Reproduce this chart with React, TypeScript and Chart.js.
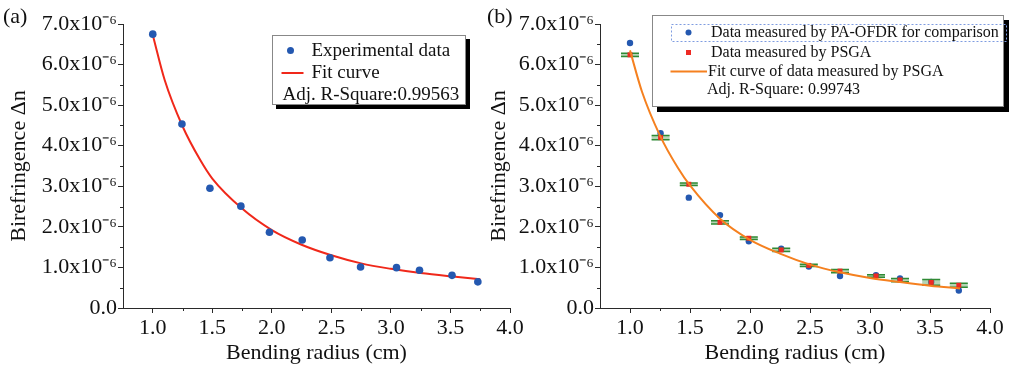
import React, { useEffect, useRef } from "react";
import { Chart, registerables } from "chart.js";

Chart.register(...registerables);

const SERIF = "'Liberation Serif', 'Times New Roman', serif";

// ---------- Panel (a) ----------
const radiusA = [1.0, 1.245, 1.48, 1.74, 1.98, 2.255, 2.488, 2.745, 3.047, 3.24, 3.513, 3.73];
const birefA = [6.75e-6, 4.535e-6, 2.95e-6, 2.51e-6, 1.866e-6, 1.676e-6, 1.24e-6, 1.01e-6, 0.995e-6, 0.93e-6, 0.805e-6, 0.645e-6];
const fitAX = [1.0, 1.1, 1.25, 1.4, 1.5, 1.75, 2.0, 2.25, 2.5, 2.75, 3.0, 3.25, 3.5, 3.75];
const fitAY = [6.73e-6, 5.62e-6, 4.48e-6, 3.64e-6, 3.19e-6, 2.45e-6, 1.92e-6, 1.56e-6, 1.3e-6, 1.1e-6, 0.965e-6, 0.86e-6, 0.78e-6, 0.71e-6];

// ---------- Panel (b) ----------
const radiusB = [1.0, 1.255, 1.49, 1.75, 1.99, 2.26, 2.49, 2.75, 3.05, 3.25, 3.51, 3.74];
const ofdrB = [6.53e-6, 4.31e-6, 2.72e-6, 2.29e-6, 1.645e-6, 1.46e-6, 1.02e-6, 0.79e-6, 0.81e-6, 0.73e-6, 0.64e-6, 0.43e-6];
const psgaB = [6.24e-6, 4.2e-6, 3.05e-6, 2.11e-6, 1.72e-6, 1.43e-6, 1.05e-6, 0.91e-6, 0.79e-6, 0.69e-6, 0.63e-6, 0.56e-6];
const psgaErrB = [0.04e-6, 0.05e-6, 0.03e-6, 0.04e-6, 0.03e-6, 0.04e-6, 0.03e-6, 0.04e-6, 0.03e-6, 0.04e-6, 0.07e-6, 0.05e-6];
const fitBX = [1.0, 1.1, 1.25, 1.4, 1.5, 1.75, 2.0, 2.25, 2.5, 2.75, 3.0, 3.25, 3.5, 3.75];
const fitBY = [6.35e-6, 5.33e-6, 4.25e-6, 3.45e-6, 3.02e-6, 2.2e-6, 1.68e-6, 1.34e-6, 1.07e-6, 0.88e-6, 0.74e-6, 0.64e-6, 0.55e-6, 0.48e-6];

// ---------- Axes ----------
const xMajorTicks = [1.0, 1.5, 2.0, 2.5, 3.0, 3.5, 4.0];
const xMinorTicks = [1.25, 1.75, 2.25, 2.75, 3.25, 3.75];
const yMajorTicks = [0, 1e-6, 2e-6, 3e-6, 4e-6, 5e-6, 6e-6, 7e-6];
const yMinorTicks = [0.5e-6, 1.5e-6, 2.5e-6, 3.5e-6, 4.5e-6, 5.5e-6, 6.5e-6];

const xTitle = "Bending radius (cm)";
const yTitle = "Birefringence \u0394n";

const AXIS_COLOR = "#2a2a2a";
const TEXT_COLOR = "#111";

function pts(xs: number[], ys: number[]) {
  return xs.map((x, i) => ({ x, y: ys[i] }));
}

function yLabel(v: number) {
  if (Math.abs(v) < 1e-12) return "0.0";
  return (v * 1e6).toFixed(1) + "x10\u207B\u2076";
}

function makeScales(yWidth: number, xHeight: number) {
  return {
    x: {
      type: "linear",
      min: 0.75,
      max: 4.0,
      afterBuildTicks: (s: any) => {
        s.ticks = xMajorTicks.map((v) => ({ value: v }));
      },
      afterFit: (s: any) => {
        s.height = xHeight;
      },
      grid: { drawOnChartArea: false, drawTicks: true, tickLength: 5, color: AXIS_COLOR, tickColor: AXIS_COLOR },
      border: { display: true, color: AXIS_COLOR, width: 1 },
      ticks: {
        font: { family: SERIF, size: 22 },
        color: TEXT_COLOR,
        padding: 2,
        maxRotation: 0,
        autoSkip: false,
        callback: (v: any) => Number(v).toFixed(1),
      },
      title: {
        display: true,
        text: xTitle,
        color: TEXT_COLOR,
        font: { family: SERIF, size: 22 },
        padding: { top: 0, bottom: 5 },
      },
    },
    y: {
      type: "linear",
      min: 0,
      max: 7e-6,
      afterBuildTicks: (s: any) => {
        s.ticks = yMajorTicks.map((v) => ({ value: v }));
      },
      afterFit: (s: any) => {
        s.width = yWidth;
      },
      grid: { drawOnChartArea: false, drawTicks: true, tickLength: 5, color: AXIS_COLOR, tickColor: AXIS_COLOR },
      border: { display: true, color: AXIS_COLOR, width: 1 },
      ticks: {
        font: { family: SERIF, size: 22 },
        color: TEXT_COLOR,
        padding: 1,
        autoSkip: false,
        callback: (v: any) => yLabel(Number(v)),
      },
      title: {
        display: true,
        text: yTitle,
        color: TEXT_COLOR,
        font: { family: SERIF, size: 22 },
        padding: { top: 6, bottom: 0 },
      },
    },
  };
}

function drawMinorTicks(chart: any) {
  const ctx = chart.ctx;
  const sx = chart.scales.x;
  const sy = chart.scales.y;
  const area = chart.chartArea;
  ctx.save();
  ctx.strokeStyle = AXIS_COLOR;
  ctx.lineWidth = 1;
  xMinorTicks.forEach((v) => {
    const px = Math.round(sx.getPixelForValue(v)) + 0.5;
    ctx.beginPath();
    ctx.moveTo(px, area.bottom);
    ctx.lineTo(px, area.bottom + 3);
    ctx.stroke();
  });
  yMinorTicks.forEach((v) => {
    const py = Math.round(sy.getPixelForValue(v)) + 0.5;
    ctx.beginPath();
    ctx.moveTo(area.left, py);
    ctx.lineTo(area.left - 3, py);
    ctx.stroke();
  });
  ctx.restore();
}

function drawBox(ctx: CanvasRenderingContext2D, x: number, y: number, w: number, h: number, sh: number) {
  ctx.fillStyle = "#000";
  ctx.fillRect(x + sh, y + sh, w, h);
  ctx.fillStyle = "#fff";
  ctx.fillRect(x, y, w, h);
  ctx.strokeStyle = "#888";
  ctx.lineWidth = 1;
  ctx.strokeRect(x + 0.5, y + 0.5, w - 1, h - 1);
}

const overlayA = {
  id: "overlayA",
  afterDraw(chart: any) {
    const ctx = chart.ctx as CanvasRenderingContext2D;
    drawMinorTicks(chart);
    ctx.save();
    ctx.fillStyle = TEXT_COLOR;
    ctx.font = `22px ${SERIF}`;
    ctx.textBaseline = "middle";
    ctx.textAlign = "left";
    ctx.fillText("(a)", 3, 17);

    drawBox(ctx, 272, 35, 194, 70, 4);
    ctx.fillStyle = "#2458b0";
    ctx.beginPath();
    ctx.arc(290.5, 50.5, 3.5, 0, Math.PI * 2);
    ctx.fill();
    ctx.strokeStyle = "#f0281a";
    ctx.lineWidth = 2;
    ctx.beginPath();
    ctx.moveTo(281.5, 73);
    ctx.lineTo(303.5, 73);
    ctx.stroke();
    ctx.fillStyle = TEXT_COLOR;
    ctx.font = `19px ${SERIF}`;
    ctx.fillText("Experimental data", 311.5, 51);
    ctx.fillText("Fit curve", 311.5, 73);
    ctx.fillText("Adj. R-Square:0.99563", 282.5, 95);
    ctx.restore();
  },
};

const OFF = 480;

const overlayB = {
  id: "overlayB",
  afterDatasetDraw(chart: any, args: any) {
    if (args.index !== 2) return;
    const ctx = chart.ctx as CanvasRenderingContext2D;
    const sx = chart.scales.x;
    const sy = chart.scales.y;
    ctx.save();
    radiusB.forEach((r, i) => {
      const px = sx.getPixelForValue(r);
      const top = sy.getPixelForValue(psgaB[i] + psgaErrB[i]);
      const bot = sy.getPixelForValue(psgaB[i] - psgaErrB[i]);
      const half = 9;
      ctx.fillStyle = "rgba(90,160,90,0.45)";
      ctx.fillRect(px - half, top, half * 2, bot - top);
      ctx.strokeStyle = "#2f8a35";
      ctx.lineWidth = 1.5;
      ctx.beginPath();
      ctx.moveTo(px - half, top);
      ctx.lineTo(px + half, top);
      ctx.moveTo(px - half, bot);
      ctx.lineTo(px + half, bot);
      ctx.moveTo(px, top);
      ctx.lineTo(px, bot);
      ctx.stroke();
    });
    ctx.restore();
  },
  afterDraw(chart: any) {
    const ctx = chart.ctx as CanvasRenderingContext2D;
    drawMinorTicks(chart);
    ctx.save();
    ctx.fillStyle = TEXT_COLOR;
    ctx.font = `22px ${SERIF}`;
    ctx.textBaseline = "middle";
    ctx.textAlign = "left";
    ctx.fillText("(b)", 487 - OFF, 17);

    drawBox(ctx, 652 - OFF, 15, 352, 92, 5);
    ctx.strokeStyle = "#7f9ce0";
    ctx.lineWidth = 1;
    ctx.setLineDash([2, 2]);
    ctx.strokeRect(671.5 - OFF, 24.5, 335, 17);
    ctx.setLineDash([]);

    ctx.fillStyle = "#2458b0";
    ctx.beginPath();
    ctx.arc(688.5 - OFF, 32.5, 3, 0, Math.PI * 2);
    ctx.fill();
    ctx.fillStyle = "#ee2a24";
    ctx.fillRect(686 - OFF, 50, 5, 5);
    ctx.strokeStyle = "#f5801f";
    ctx.lineWidth = 2;
    ctx.beginPath();
    ctx.moveTo(670.5 - OFF, 71.5);
    ctx.lineTo(707 - OFF, 71.5);
    ctx.stroke();

    ctx.fillStyle = TEXT_COLOR;
    ctx.font = `16px ${SERIF}`;
    ctx.fillText("Data measured by PA-OFDR for comparison", 711 - OFF, 33);
    ctx.fillText("Data measured by PSGA", 711 - OFF, 53);
    ctx.fillText("Fit curve of data measured by PSGA", 708 - OFF, 72);
    ctx.fillText("Adj. R-Square: 0.99743", 707 - OFF, 90);
    ctx.restore();
  },
};

export default function App() {
  const refA = useRef<HTMLCanvasElement | null>(null);
  const refB = useRef<HTMLCanvasElement | null>(null);

  useEffect(() => {
    const chartA = new Chart(refA.current as HTMLCanvasElement, {
      type: "scatter",
      data: {
        datasets: [
          {
            label: "Experimental data",
            data: pts(radiusA, birefA),
            pointRadius: 3.8,
            pointBackgroundColor: "#2458b0",
            pointBorderWidth: 0,
            showLine: false,
          },
          {
            label: "Fit curve",
            data: pts(fitAX, fitAY),
            showLine: true,
            pointRadius: 0,
            borderColor: "#f0281a",
            borderWidth: 2,
            cubicInterpolationMode: "monotone",
          } as any,
        ],
      },
      options: {
        responsive: false,
        maintainAspectRatio: false,
        animation: false,
        devicePixelRatio: 1,
        layout: { padding: { left: 0, right: 30, top: 24, bottom: 0 } },
        plugins: { legend: { display: false }, tooltip: { enabled: false } },
        scales: makeScales(123, 63) as any,
      },
      plugins: [overlayA],
    });

    const chartB = new Chart(refB.current as HTMLCanvasElement, {
      type: "scatter",
      data: {
        datasets: [
          {
            label: "Fit curve of data measured by PSGA",
            data: pts(fitBX, fitBY),
            showLine: true,
            pointRadius: 0,
            borderColor: "#f5801f",
            borderWidth: 2,
            cubicInterpolationMode: "monotone",
          } as any,
          {
            label: "Data measured by PSGA",
            data: pts(radiusB, psgaB),
            pointStyle: "rect",
            pointRadius: 3.5,
            pointBackgroundColor: "#ee2a24",
            pointBorderWidth: 0,
            showLine: false,
          },
          {
            label: "Data measured by PA-OFDR for comparison",
            data: pts(radiusB, ofdrB),
            pointRadius: 3.2,
            pointBackgroundColor: "#2458b0",
            pointBorderWidth: 0,
            showLine: false,
          },
        ],
      },
      options: {
        responsive: false,
        maintainAspectRatio: false,
        animation: false,
        devicePixelRatio: 1,
        layout: { padding: { left: 0, right: 19, top: 24, bottom: 0 } },
        plugins: { legend: { display: false }, tooltip: { enabled: false } },
        scales: makeScales(120, 63) as any,
      },
      plugins: [overlayB],
    });

    return () => {
      chartA.destroy();
      chartB.destroy();
    };
  }, []);

  return (
    <div style={{ position: "absolute", left: 0, top: 0, width: 1009, height: 371, background: "#fff" }}>
      <canvas ref={refA} width={540} height={371} style={{ position: "absolute", left: 0, top: 0 }} />
      <canvas ref={refB} width={529} height={371} style={{ position: "absolute", left: OFF, top: 0 }} />
    </div>
  );
}
